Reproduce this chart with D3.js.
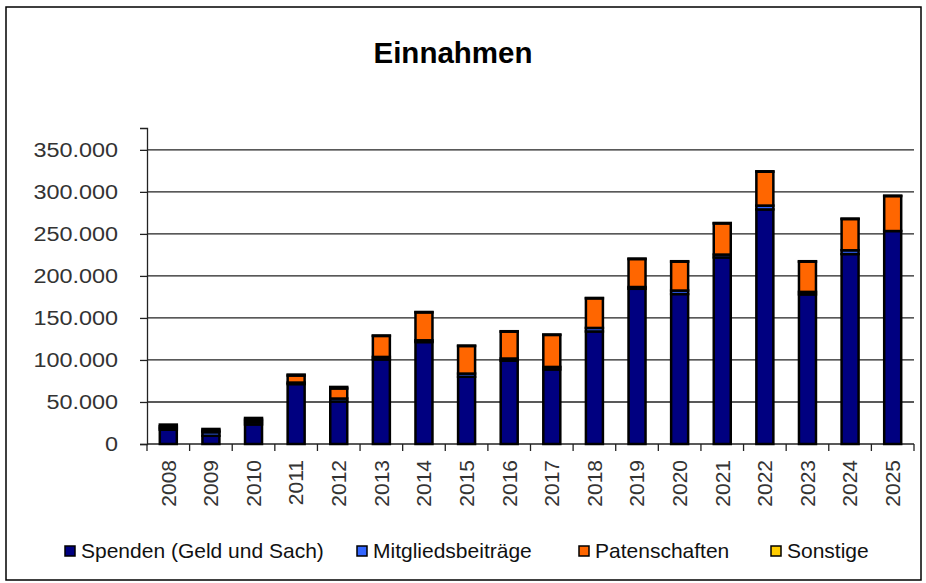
<!DOCTYPE html>
<html>
<head>
<meta charset="utf-8">
<script src="https://cdn.jsdelivr.net/npm/d3@7"></script>
<style>
  body { margin: 0; background: #fff; }
  text { font-family: "Liberation Sans", Arial, sans-serif; }
</style>
</head>
<body>
<svg id="vis"></svg>
<script>
// Datos
const JAHRE = ["2008", "2009", "2010", "2011", "2012", "2013", "2014", "2015", "2016",
    "2017", "2018", "2019", "2020", "2021", "2022", "2023", "2024", "2025"];
const SPENDEN = [17000, 9800, 23300, 71300, 50600, 100600, 121300, 80000, 99100,
    88700, 133900, 184700, 178400, 222000, 279100, 178000, 226000, 253400];
const MITGLIEDER = [2000, 4200, 3000, 1800, 3500, 3000, 2100, 3800, 2600,
    3000, 4200, 2100, 4200, 3400, 4600, 3000, 4500, 0];
const PATEN = [2100, 2000, 2700, 8400, 12000, 25000, 33200, 32800, 32000,
    38100, 35200, 33300, 34400, 37100, 40300, 36000, 37200, 41600];
const SONSTIGE = [2000, 1900, 2000, 1100, 1800, 500, 500, 500, 500,
    500, 500, 500, 500, 500, 500, 500, 500, 500];

const SERIEN = ["Spenden (Geld und Sach)", "Mitgliedsbeiträge", "Patenschaften", "Sonstige"];
const FARBEN = ["#000080", "#3366FF", "#FF6600", "#FFCC00"];
const Y_TICKS = [0, 50000, 100000, 150000, 200000, 250000, 300000, 350000];

const WIDTH = 926;
const HEIGHT = 583;
const MARGIN = {
    top: 128,
    bottom: 139,
    right: 9,
    left: 147,
};
const BAR_WIDTH = 17;

const svg = d3.select("#vis")
    .attr("width", WIDTH)
    .attr("height", HEIGHT);

// Marco exterior
svg.append("rect")
    .attr("x", 6)
    .attr("y", 7)
    .attr("width", 915)
    .attr("height", 573)
    .attr("fill", "white")
    .attr("stroke", "black")
    .attr("stroke-width", 1.5);

const tabla = JAHRE.map((j, i) => ({
    jahr: j,
    s0: SPENDEN[i],
    s1: MITGLIEDER[i],
    s2: PATEN[i],
    s3: SONSTIGE[i],
}));

const escalaX = d3.scaleBand()
    .domain(JAHRE)
    .range([MARGIN.left, WIDTH - MARGIN.right - 3]);

const escalaY = d3.scaleLinear()
    .domain([0, 376000])
    .range([HEIGHT - MARGIN.bottom, MARGIN.top]);

const de = d3.formatLocale({ decimal: ",", thousands: ".", grouping: [3], currency: ["", " €"] });
const formato = de.format(",.0f");

const x0 = escalaX.range()[0];
const x1 = escalaX.range()[1];

// Líneas de la grilla
svg.append("g")
    .selectAll("line")
    .data(Y_TICKS.slice(1))
    .join("line")
    .attr("x1", x0)
    .attr("x2", x1)
    .attr("y1", d => escalaY(d))
    .attr("y2", d => escalaY(d))
    .attr("stroke", "#222")
    .attr("stroke-width", 1.3);

// EJE Y
const ejeY = d3.axisLeft(escalaY)
    .tickValues(Y_TICKS)
    .tickSize(7)
    .tickPadding(22)
    .tickFormat(formato);
const contenedorEjeY = svg.append("g")
    .attr("transform", `translate(${x0}, 0)`)
    .call(ejeY);
contenedorEjeY.select(".domain")
    .attr("stroke", "#222")
    .attr("stroke-width", 1.3);
contenedorEjeY.selectAll(".tick line")
    .attr("stroke", "#222")
    .attr("stroke-width", 1.3);
contenedorEjeY.selectAll("text")
    .attr("font-size", 20)
    .attr("font-family", "Liberation Sans, Arial, sans-serif")
    .attr("fill", "#333")
    .each(function () {
        // las etiquetas del original son más anchas
        const largo = this.getComputedTextLength() * 1.17;
        d3.select(this)
            .attr("textLength", largo)
            .attr("lengthAdjust", "spacingAndGlyphs");
    });

// EJE X
const yBase = escalaY(0);
svg.append("line")
    .attr("x1", x0)
    .attr("x2", x1)
    .attr("y1", yBase)
    .attr("y2", yBase)
    .attr("stroke", "#222")
    .attr("stroke-width", 1.3);

svg.append("g")
    .selectAll("line")
    .data(JAHRE.concat(["ende"]))
    .join("line")
    .attr("x1", d => d === "ende" ? x1 : escalaX(d))
    .attr("x2", d => d === "ende" ? x1 : escalaX(d))
    .attr("y1", yBase)
    .attr("y2", yBase + 7)
    .attr("stroke", "#222")
    .attr("stroke-width", 1.3);

svg.append("g")
    .selectAll("text")
    .data(JAHRE)
    .join("text")
    .attr("transform", d => `translate(${escalaX(d) + escalaX.bandwidth() / 2}, ${yBase + 16}) rotate(-90)`)
    .attr("text-anchor", "end")
    .attr("dy", "0.35em")
    .attr("font-size", 21)
    .attr("fill", "#333")
    .text(d => d);

// Barras apiladas
const pila = d3.stack().keys(["s0", "s1", "s2", "s3"])(tabla);

svg.append("g")
    .selectAll("g")
    .data(pila)
    .join("g")
    .attr("fill", (d, i) => FARBEN[i])
    .selectAll("rect")
    .data(d => d.filter(p => p[1] > p[0]))
    .join("rect")
    .attr("x", d => escalaX(d.data.jahr) + escalaX.bandwidth() / 2 - BAR_WIDTH / 2)
    .attr("width", BAR_WIDTH)
    .attr("y", d => escalaY(d[1]))
    .attr("height", d => escalaY(d[0]) - escalaY(d[1]))
    .attr("stroke", "black")
    .attr("stroke-width", 2.5);

// Título
svg.append("text")
    .attr("x", 453)
    .attr("y", 63)
    .attr("text-anchor", "middle")
    .attr("font-size", 29.5)
    .attr("font-weight", "bold")
    .text("Einnahmen");

// Leyenda
const LEGENDE_X = [65, 357, 579, 771];
const leyenda = svg.append("g")
    .selectAll("g")
    .data(SERIEN)
    .join("g")
    .attr("transform", (d, i) => `translate(${LEGENDE_X[i]}, 551)`);

leyenda.append("rect")
    .attr("x", 0)
    .attr("y", -5)
    .attr("width", 10)
    .attr("height", 10)
    .attr("fill", (d, i) => FARBEN[i])
    .attr("stroke", "black")
    .attr("stroke-width", 1.5);

leyenda.append("text")
    .attr("x", 16)
    .attr("dy", "0.35em")
    .attr("font-size", 21)
    .attr("fill", "#111")
    .text(d => d);
</script>
</body>
</html>
